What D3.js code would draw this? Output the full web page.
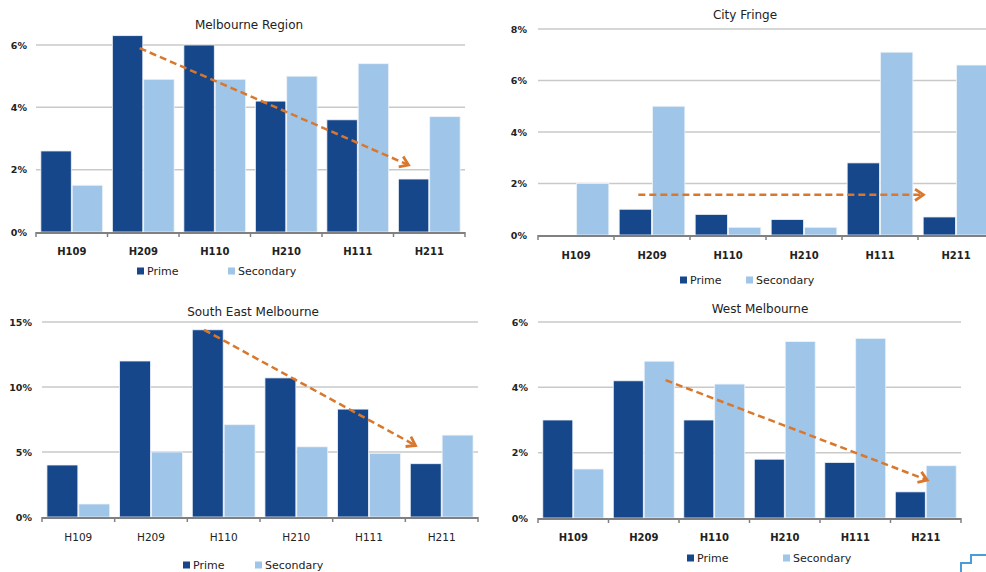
<!DOCTYPE html>
<html><head><meta charset="utf-8">
<script src="https://cdn.jsdelivr.net/npm/d3@7"></script>
<style>
body{margin:0;background:#fff;}
svg{display:block;font-family:"DejaVu Sans",Verdana,sans-serif;}
</style></head>
<body><svg id="c" width="986" height="572"></svg>
<script>
const categories = ["H109","H209","H110","H210","H111","H211"];
const seriesNames = ["Prime","Secondary"];

const melbournePrime     = [2.6, 6.3, 6.0, 4.2, 3.6, 1.7];
const melbourneSecondary = [1.5, 4.9, 4.9, 5.0, 5.4, 3.7];
const melbourneTicks     = [0, 2, 4, 6];

const fringePrime     = [0, 1.0, 0.8, 0.6, 2.8, 0.7];
const fringeSecondary = [2.0, 5.0, 0.3, 0.3, 7.1, 6.6];
const fringeTicks     = [0, 2, 4, 6, 8];

const southEastPrime     = [4.0, 12.0, 14.4, 10.7, 8.3, 4.1];
const southEastSecondary = [1.0, 5.0, 7.1, 5.4, 4.9, 6.3];
const southEastTicks     = [0, 5, 10, 15];

const westPrime     = [3.0, 4.2, 3.0, 1.8, 1.7, 0.8];
const westSecondary = [1.5, 4.8, 4.1, 5.4, 5.5, 1.6];
const westTicks     = [0, 2, 4, 6];

// trend arrows: [category, fraction across band, value]
const melbourneArrow = [["H209",0.45,5.9],["H211",0.21,2.15]];
const fringeArrow    = [["H209",0.32,1.56],["H211",0.07,1.56]];
const southEastArrow = [["H110",0.23,14.4],["H211",0.14,5.5]];
const westArrow      = [["H209",0.81,4.22],["H211",0.52,1.16]];

const PRIME = "#17478B", SEC = "#9FC5E8", ORANGE = "#D9782D";
const svg = d3.select("#c");

const panels = [
  {title:"Melbourne Region", prime:melbournePrime, sec:melbourneSecondary, ticks:melbourneTicks, arrow:melbourneArrow,
   x0:36, x1:465, yTop:45, y0:232, titleX:249, titleY:29, labelY:255, boldLabels:true, legY:271, legX:[137,228], yLabX:27},
  {title:"City Fringe", prime:fringePrime, sec:fringeSecondary, ticks:fringeTicks, arrow:fringeArrow,
   x0:538, x1:994, yTop:29, y0:235, titleX:745, titleY:19, labelY:259, boldLabels:true, legY:280, legX:[680,746], yLabX:527},
  {title:"South East Melbourne", prime:southEastPrime, sec:southEastSecondary, ticks:southEastTicks, arrow:southEastArrow,
   x0:42, x1:478, yTop:322, y0:517, titleX:253, titleY:316, labelY:541, boldLabels:false, legY:565, legX:[183,255], yLabX:32},
  {title:"West Melbourne", prime:westPrime, sec:westSecondary, ticks:westTicks, arrow:westArrow,
   x0:538, x1:961, yTop:322, y0:518, titleX:760, titleY:313, labelY:541, boldLabels:true, legY:558, legX:[687,783], yLabX:528}
];

panels.forEach(p => {
  const g = svg.append("g");
  const maxT = d3.max(p.ticks);
  const x = d3.scaleBand().domain(categories).range([p.x0, p.x1]);
  const bw = x.bandwidth();
  const xs = d3.scaleBand().domain(seriesNames).range([bw*0.068, bw*0.932]).paddingInner(0.03);
  const y = d3.scaleLinear().domain([0, maxT]).range([p.y0, p.yTop]);

  // gridlines
  g.selectAll("line.grid").data(p.ticks.filter(t=>t>0)).join("line")
    .attr("x1", p.x0).attr("x2", p.x1)
    .attr("y1", d=>y(d)).attr("y2", d=>y(d))
    .attr("stroke", "#C9C9C9").attr("stroke-width", 1.5);

  // y labels
  g.selectAll("text.yl").data(p.ticks).join("text")
    .attr("x", p.yLabX).attr("y", d=>y(d)+3.5)
    .attr("text-anchor","end").attr("font-size", 9.5).attr("font-weight","bold")
    .attr("fill","#222").text(d=>d+"%");

  // bars
  const rows = categories.map((c,i)=>({c, vals:[{s:"Prime",v:p.prime[i]},{s:"Secondary",v:p.sec[i]}]}));
  const cg = g.selectAll("g.cat").data(rows).join("g").attr("transform", d=>`translate(${x(d.c)},0)`);
  cg.selectAll("rect").data(d=>d.vals.filter(v=>v.v>0)).join("rect")
    .attr("x", d=>xs(d.s)).attr("width", xs.bandwidth())
    .attr("y", d=>y(d.v)).attr("height", d=>p.y0 - y(d.v))
    .attr("fill", d=>d.s==="Prime"?PRIME:SEC)
    .attr("stroke", "#EEF3F9").attr("stroke-width", 0.8);

  // axis
  g.append("line").attr("x1",p.x0).attr("x2",p.x1).attr("y1",p.y0+1).attr("y2",p.y0+1)
    .attr("stroke","#808080").attr("stroke-width",2);
  const bounds = categories.map(c=>x(c)).concat([p.x1]);
  g.selectAll("line.tk").data(bounds).join("line")
    .attr("x1",d=>d).attr("x2",d=>d).attr("y1",p.y0).attr("y2",p.y0+5)
    .attr("stroke","#808080").attr("stroke-width",1.5);

  // category labels
  g.selectAll("text.cl").data(categories).join("text")
    .attr("x", d=>x(d)+bw/2).attr("y", p.labelY)
    .attr("text-anchor","middle").attr("font-size", p.boldLabels?10:10.5)
    .attr("font-weight", p.boldLabels?"bold":"normal").attr("fill","#222").text(d=>d);

  // title
  g.append("text").attr("x",p.titleX).attr("y",p.titleY).attr("text-anchor","middle")
    .attr("font-size",12).attr("fill","#222").text(p.title);

  // legend
  seriesNames.forEach((s,i)=>{
    g.append("rect").attr("x",p.legX[i]).attr("y",p.legY-3.5).attr("width",7).attr("height",7)
      .attr("fill", i===0?PRIME:SEC);
    g.append("text").attr("x",p.legX[i]+10).attr("y",p.legY+4).attr("font-size",11)
      .attr("fill","#222").text(s);
  });

  // trend arrow
  const pt = a => [x(a[0]) + a[1]*bw, y(a[2])];
  const [s0, e0] = p.arrow.map(pt);
  const ang = Math.atan2(e0[1]-s0[1], e0[0]-s0[0]);
  const back = 2;
  g.append("line").attr("x1",s0[0]).attr("y1",s0[1])
    .attr("x2",e0[0]-back*Math.cos(ang)).attr("y2",e0[1]-back*Math.sin(ang))
    .attr("stroke",ORANGE).attr("stroke-width",2.5).attr("stroke-dasharray","7,4");
  const L = 10, A = 0.6;
  const pth = d3.path();
  pth.moveTo(e0[0]-L*Math.cos(ang-A), e0[1]-L*Math.sin(ang-A));
  pth.lineTo(e0[0], e0[1]);
  pth.lineTo(e0[0]-L*Math.cos(ang+A), e0[1]-L*Math.sin(ang+A));
  g.append("path").attr("d",pth.toString()).attr("fill","none")
    .attr("stroke",ORANGE).attr("stroke-width",2.8).attr("stroke-linejoin","miter");
});

// corner logo fragment
svg.append("path").attr("d","M961,572 V563 H971 V555 H986").attr("fill","none")
  .attr("stroke","#4A9BD6").attr("stroke-width",2);
</script></body></html>
